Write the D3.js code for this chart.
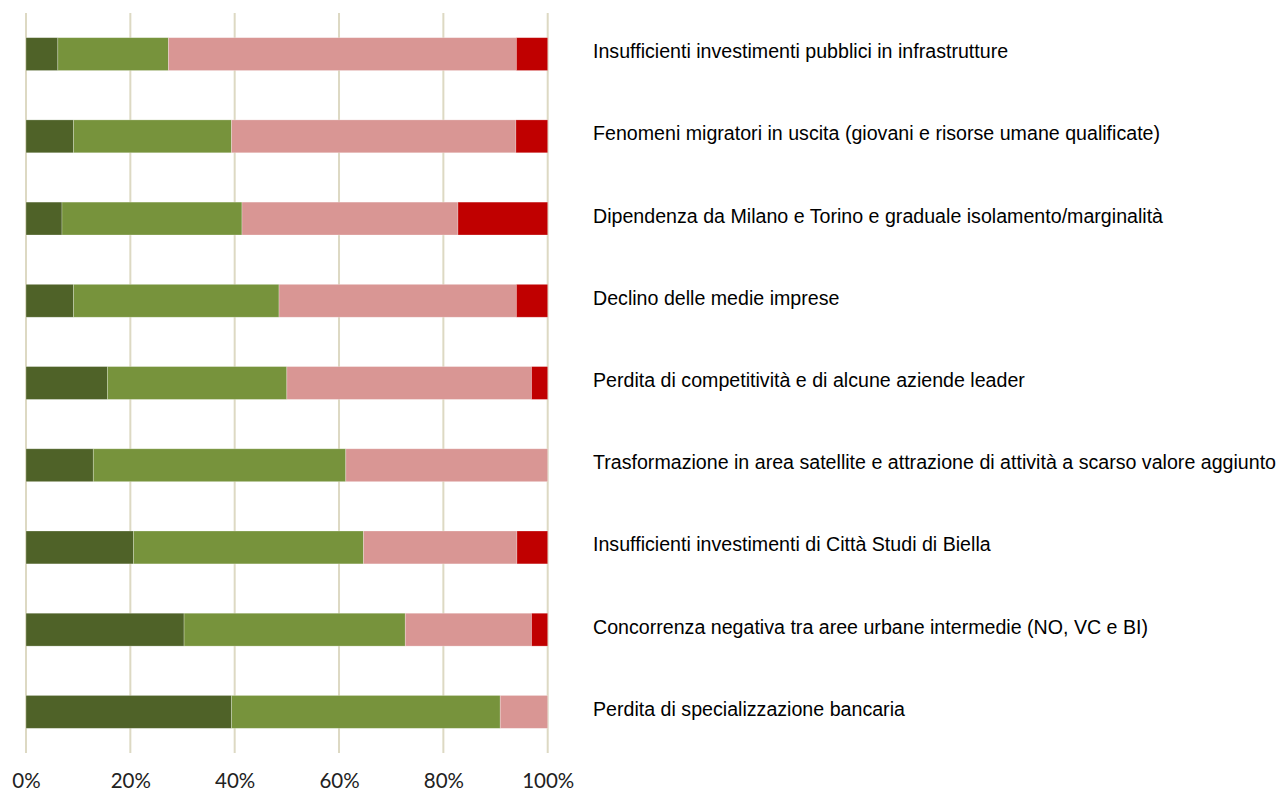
<!DOCTYPE html>
<html>
<head>
<meta charset="utf-8">
<script src="https://cdn.jsdelivr.net/npm/d3@7"></script>
<style>
  html, body { margin: 0; padding: 0; background: #fff; }
  svg { display: block; }
</style>
</head>
<body>
<svg id="chart" width="1282" height="791"></svg>
<script>
const categories = [
  "Insufficienti investimenti pubblici in infrastrutture",
  "Fenomeni migratori in uscita (giovani e risorse umane qualificate)",
  "Dipendenza da Milano e Torino e graduale isolamento/marginalità",
  "Declino delle medie imprese",
  "Perdita di competitività e di alcune aziende leader",
  "Trasformazione in area satellite e attrazione di attività a scarso valore aggiunto",
  "Insufficienti investimenti di Città Studi di Biella",
  "Concorrenza negativa tra aree urbane intermedie (NO, VC e BI)",
  "Perdita di specializzazione bancaria"
];
const seriesKeys = ["s1", "s2", "s3", "s4"];
const s1 = [6.1, 9.1, 6.9, 9.1, 15.6, 12.9, 20.6, 30.3, 39.4];
const s2 = [21.2, 30.3, 34.5, 39.4, 34.4, 48.4, 44.1, 42.4, 51.5];
const s3 = [66.7, 54.5, 41.4, 45.5, 46.9, 38.7, 29.4, 24.2, 9.1];
const s4 = [6.0, 6.1, 17.2, 6.0, 3.1, 0.0, 5.9, 3.1, 0.0];
const seriesColors = ["#4f6228", "#77933c", "#d99694", "#c00000"];
const tickValues = [0, 20, 40, 60, 80, 100];
const tickLabels = ["0%", "20%", "40%", "60%", "80%", "100%"];

const rows = categories.map((c, i) => ({ cat: c, s1: s1[i], s2: s2[i], s3: s3[i], s4: s4[i] }));
const stacked = d3.stack().keys(seriesKeys)(rows);

const svg = d3.select("#chart");
const x = d3.scaleLinear().domain([0, 100]).range([26, 547.7]);
const y = d3.scaleBand().domain(categories).range([13, 753]).paddingInner(0.6).paddingOuter(0.3);

// gridlines
svg.append("g").selectAll("line").data(tickValues).join("line")
  .attr("x1", d => x(d)).attr("x2", d => x(d))
  .attr("y1", 13).attr("y2", 753)
  .attr("stroke", "#ddd9c3").attr("stroke-width", 2);

// bars
svg.append("g").selectAll("g").data(stacked).join("g")
  .attr("fill", (d, i) => seriesColors[i])
  .selectAll("rect").data(d => d.filter(p => p[1] - p[0] > 0)).join("rect")
  .attr("x", d => x(d[0]))
  .attr("width", d => x(d[1]) - x(d[0]))
  .attr("y", d => y(d.data.cat))
  .attr("height", y.bandwidth())
  .attr("stroke", "rgba(255,255,255,0.35)")
  .attr("stroke-width", 0.75);

// category labels (slightly condensed Arial-like)
svg.append("g").selectAll("text").data(categories).join("text")
  .attr("transform", d => `translate(593,${y(d) + y.bandwidth() / 2 + 4}) scale(0.935,1)`)
  .attr("font-family", "'Liberation Sans', Arial, sans-serif")
  .attr("font-size", 21)
  .attr("fill", "#000")
  .text(d => d);

// x axis labels
const axis = d3.axisBottom(x).tickValues(tickValues).tickFormat((d, i) => tickLabels[i]).tickSize(0).tickPadding(0);
const ax = svg.append("g").attr("transform", "translate(0,773)").call(axis);
ax.select(".domain").remove();
ax.selectAll("text")
  .attr("dy", null)
  .attr("y", 15)
  .attr("font-family", "Lato, 'DejaVu Sans', sans-serif")
  .attr("font-size", 20.5)
  .attr("fill", "#222");
</script>
</body>
</html>
